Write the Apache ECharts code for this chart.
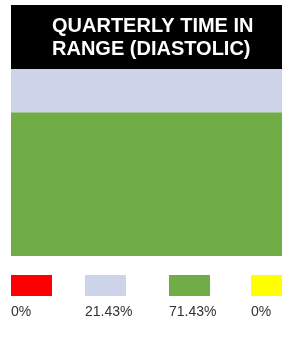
<!DOCTYPE html>
<html>
<head>
    <meta charset="UTF-8">
    <title>Quarterly Time In Range</title>
    <script src="https://cdn.jsdelivr.net/npm/echarts@6/dist/echarts.min.js"></script>
    <style>
        html, body { margin: 0; padding: 0; background: #fff; }
        #chart { width: 282px; height: 339px; }
    </style>
</head>
<body>
    <div id="chart"></div>
    <script>
        // legend order, left to right
        var names = ['Low', 'Normal', 'Target', 'High'];
        var values = [0, 21.43, 71.43, 0];
        var colors = ['#ff0000', '#cdd3e8', '#70ad47', '#ffff00'];
        // stacking order, bottom to top
        var stackOrder = [2, 1, 0, 3];
        var legendX = [11, 85, 169, 251];

        var font = 'Liberation Sans, Arial, sans-serif';
        var total = values.reduce(function (a, b) { return a + b; }, 0);

        var series = stackOrder.map(function (i) {
            return {
                name: names[i],
                type: 'bar',
                stack: 'tir',
                barWidth: '100%',
                itemStyle: { color: colors[i] },
                data: [values[i]]
            };
        });

        var legends = names.map(function (n, i) {
            return {
                data: [n],
                left: legendX[i],
                top: 275,
                padding: 0,
                itemWidth: 41,
                itemHeight: 21,
                icon: 'rect',
                selectedMode: false,
                formatter: function () { return ''; }
            };
        });

        var labels = values.map(function (v, i) {
            return {
                type: 'text',
                left: legendX[i],
                top: 305,
                style: {
                    text: v + '%',
                    fill: '#333',
                    font: '14px ' + font
                }
            };
        });

        var myChart = echarts.init(document.getElementById('chart'), null, { renderer: 'canvas' });
        var option = {
            animation: false,
            title: {
                text: 'QUARTERLY TIME IN\nRANGE (DIASTOLIC)',
                left: 11,
                top: 5,
                backgroundColor: '#000',
                padding: [10, 41, 8, 41],
                textStyle: {
                    color: '#fff',
                    fontFamily: font,
                    fontWeight: 'bold',
                    fontSize: 20,
                    lineHeight: 23
                }
            },
            legend: legends,
            grid: { left: 11, right: 0, top: 69, bottom: 83 },
            xAxis: { type: 'category', data: ['Q'], show: false },
            yAxis: { type: 'value', min: 0, max: total, show: false },
            series: series,
            graphic: labels
        };
        myChart.setOption(option);
    </script>
</body>
</html>
